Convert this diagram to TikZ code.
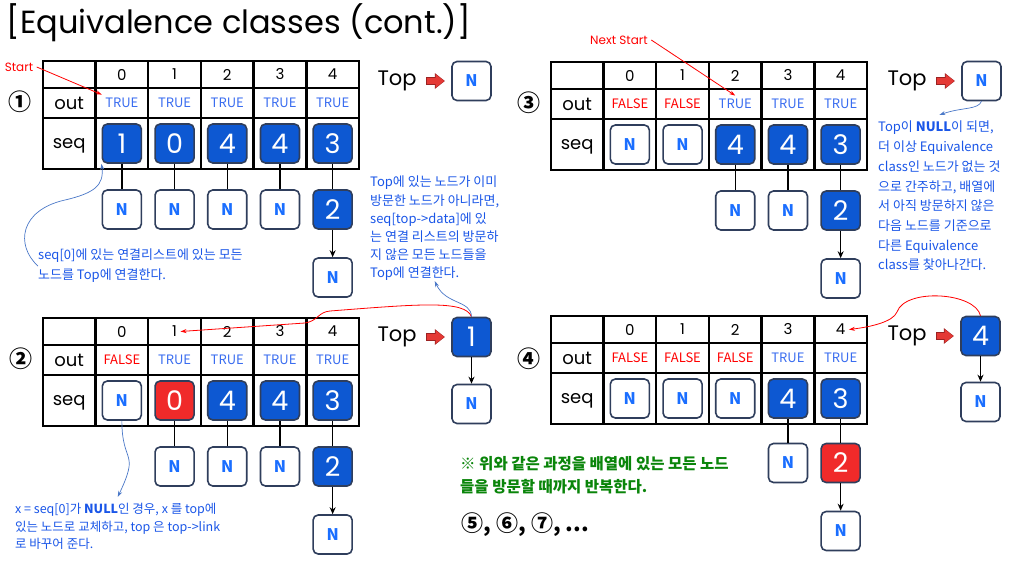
\documentclass[tikz,border=0pt]{standalone}
\usepackage{fontspec}
\setmainfont{Noto Sans CJK KR}
\newfontfamily\geo{Poppins}
\usetikzlibrary{arrows.meta}
\definecolor{boxblue}{HTML}{0D58D2}
\definecolor{edge}{HTML}{2F3E5C}
\definecolor{nblue}{HTML}{1A6EFF}
\definecolor{trueblue}{HTML}{3A6DF0}
\definecolor{hotred}{HTML}{F02A2A}
\definecolor{noteblue}{HTML}{1A56E8}
\definecolor{hintblue}{HTML}{4A78C8}
\definecolor{ptrred}{HTML}{E53935}
\definecolor{ptrdark}{HTML}{9B2222}
\definecolor{notegreen}{HTML}{0A850A}
\newcommand{\seqgrid}[1]% panel prefix
{\draw[line width=2.4pt] (43,61) rectangle (359,169);
\foreach \y in {88,118} \draw[line width=2.4pt] (43,\y) -- (359,\y);
\foreach \x in {95.5,148.2,200.9,253.6,306.3} \draw[line width=2.4pt] (\x,61) -- (\x,169);
\foreach \i in {0,...,4} \node[hdr] (#1h\i) at (121.85+52.7*\i,74.5) {\i};
\node[rowname] (#1out) at (69.2,103) {out};
\node[rowname] (#1seq) at (69.2,146) {seq};
}
\newcommand{\topptr}[2]% Top word, Top box
{\draw[ptrdark,line width=7.4pt,shorten <=8.3pt,shorten >=6.3pt,-{Triangle[length=10pt,width=15pt]}] (#1) -- (#2);
\draw[ptrred,line width=6pt,shorten <=9pt,shorten >=7pt,-{Triangle[length=8.6pt,width=13pt]}] (#1) -- (#2);
}

\begin{document}
\begin{tikzpicture}[x=1pt,y=-1pt]
\tikzstyle{box}=[draw=edge,line width=1.6pt,rounded corners=5pt,minimum size=39pt,inner sep=0pt]
\tikzstyle{blk}=[box,fill=boxblue,text=white,font=\geo\fontsize{27}{27}\selectfont]
\tikzstyle{hot}=[blk,fill=hotred]
\tikzstyle{nil}=[box,fill=white,text=nblue,font=\bfseries\fontsize{16}{16}\selectfont]
\tikzstyle{hdr}=[font=\geo\fontsize{15}{15}\selectfont]
\tikzstyle{rowname}=[font=\geo\fontsize{18}{18}\selectfont]
\tikzstyle{tru}=[text=trueblue,font=\fontsize{13}{13}\selectfont]
\tikzstyle{fal}=[text=red,font=\fontsize{13}{13}\selectfont]
\tikzstyle{link}=[-{Stealth[length=7pt,width=6pt]},line width=1.5pt]
\tikzstyle{flag}=[red,line width=0.8pt,-{Stealth[length=6pt,width=4pt]}]
\tikzstyle{hint}=[hintblue,line width=0.7pt,-{Stealth[length=6pt,width=4pt]}]
\tikzstyle{topword}=[font=\geo\fontsize{21}{21}\selectfont,inner sep=1pt]
\tikzstyle{circnum}=[font=\bfseries\fontsize{23}{23}\selectfont]
\tikzstyle{note}=[anchor=north west,align=left,inner sep=0pt,text=noteblue]
\useasboundingbox[fill=white] (0,0) rectangle (1018,562);

\node[anchor=west,font=\geo\fontsize{32}{32}\selectfont] (title) at (3,23) {[Equivalence classes (cont.)]};

% panel 1
\seqgrid{a}
\foreach \s/\v [count=\i from 0] in {tru/TRUE,tru/TRUE,tru/TRUE,tru/TRUE,tru/TRUE}
  \node[\s] (ao\i) at (121.85+52.7*\i,103) {\v};
\draw (121.85,143.5) node[blk] (as0) {1}; % seq[0]
\draw (174.55,143.5) node[blk] (as1) {0}; % seq[1]
\draw (227.25,143.5) node[blk] (as2) {4}; % seq[2]
\draw (279.95,143.5) node[blk] (as3) {4}; % seq[3]
\draw (332.65,143.5) node[blk] (as4) {3}; % seq[4]
\draw (121.85,209.5) node[nil] (an0) {N};
\draw (174.55,209.5) node[nil] (an1) {N};
\draw (227.25,209.5) node[nil] (an2) {N};
\draw (279.95,209.5) node[nil] (an3) {N};
\draw (332.65,209.5) node[blk] (an4) {2};
\draw (332.65,277.5) node[nil] (am4) {N};
\draw[link] (as0) -- (an0) (as1) -- (an1) (as2) -- (an2) (as3) -- (an3) (as4) -- (an4) (an4) -- (am4);
\node[circnum] (anum) at (20,102) {①};
\node[topword] (atop) at (397,81) {Top};
\node[nil] (atb) at (471.5,81) {N};
\topptr{atop}{atb}

% panel 3
\begin{scope}[shift={(508,1)}]
\seqgrid{c}
\foreach \s/\v [count=\i from 0] in {fal/FALSE,fal/FALSE,tru/TRUE,tru/TRUE,tru/TRUE}
  \node[\s] (co\i) at (121.85+52.7*\i,103) {\v};
\draw (121.85,143.5) node[nil] (cs0) {N};
\draw (174.55,143.5) node[nil] (cs1) {N};
\draw (227.25,143.5) node[blk] (cs2) {4};
\draw (279.95,143.5) node[blk] (cs3) {4};
\draw (332.65,143.5) node[blk] (cs4) {3};
\draw (227.25,209.5) node[nil] (cn2) {N};
\draw (279.95,209.5) node[nil] (cn3) {N};
\draw (332.65,209.5) node[blk] (cn4) {2};
\draw (332.65,277.5) node[nil] (cm4) {N};
\draw[link] (cs2) -- (cn2) (cs3) -- (cn3) (cs4) -- (cn4) (cn4) -- (cm4);
\node[circnum] (cnum) at (21,102) {③};
\node[topword] (ctop) at (399,80) {Top};
\node[nil] (ctb) at (473.5,80) {N};
\topptr{ctop}{ctb}
\end{scope}

% panel 2
\begin{scope}[shift={(0,257)}]
\seqgrid{b}
\foreach \s/\v [count=\i from 0] in {fal/FALSE,tru/TRUE,tru/TRUE,tru/TRUE,tru/TRUE}
  \node[\s] (bo\i) at (121.85+52.7*\i,103) {\v};
\draw (121.85,143.5) node[nil] (bs0) {N};
\draw (174.55,143.5) node[hot] (bs1) {0};
\draw (227.25,143.5) node[blk] (bs2) {4};
\draw (279.95,143.5) node[blk] (bs3) {4};
\draw (332.65,143.5) node[blk] (bs4) {3};
\draw (174.55,209.5) node[nil] (bn1) {N};
\draw (227.25,209.5) node[nil] (bn2) {N};
\draw (279.95,209.5) node[nil] (bn3) {N};
\draw (332.65,209.5) node[blk] (bn4) {2};
\draw (332.65,277.5) node[nil] (bm4) {N};
\draw[link] (bs1) -- (bn1) (bs2) -- (bn2) (bs3) -- (bn3) (bs4) -- (bn4) (bn4) -- (bm4);
\node[circnum] (bnum) at (21,102) {②};
\node[topword] (btop) at (397,80) {Top};
\node[blk] (btb) at (471.5,80) {1};
\node[nil] (btn) at (471.5,147) {N};
\topptr{btop}{btb}
\draw[link] (btb) -- (btn);
\end{scope}

% panel 4
\begin{scope}[shift={(508,255)}]
\seqgrid{d}
\foreach \s/\v [count=\i from 0] in {fal/FALSE,fal/FALSE,fal/FALSE,tru/TRUE,tru/TRUE}
  \node[\s] (do\i) at (121.85+52.7*\i,103) {\v};
\draw (121.85,143.5) node[nil] (ds0) {N};
\draw (174.55,143.5) node[nil] (ds1) {N};
\draw (227.25,143.5) node[nil] (ds2) {N};
\draw (279.95,143.5) node[blk] (ds3) {4};
\draw (332.65,143.5) node[blk] (ds4) {3};
\draw (279.95,208) node[nil] (dn3) {N};
\draw (332.65,208) node[hot] (dn4) {2};
\draw (332.65,276) node[nil] (dm4) {N};
\draw[link] (ds3) -- (dn3) (ds4) -- (dn4) (dn4) -- (dm4);
\node[circnum] (dnum) at (21,104) {④};
\node[topword] (dtop) at (399,81) {Top};
\node[blk] (dtb) at (472.5,81) {4};
\node[nil] (dtn) at (472.5,147) {N};
\topptr{dtop}{dtb}
\draw[link] (dtb) -- (dtn);
\end{scope}

% red pointers
\node[text=red,font=\geo\fontsize{12}{12}\selectfont] (start) at (19,67) {Start};
\draw[flag] (start.east) -- (ao0.north west);
\node[text=red,font=\geo\fontsize{12}{12}\selectfont] (nstart) at (619,40) {Next Start};
\draw[flag] (nstart.east) -- (co2.north);
\draw[flag] (btb.north) .. controls (465,300) and (420,304) .. (330,311)
  .. controls (318,312) and (318,321) .. (305,323) -- (bh1.east);
\draw[flag] (dtb.north) .. controls (975,292) and (905,288) .. (897,312)
  .. controls (893,322) and (870,327) .. (dh4.east);

% notes
\node[note,font=\fontsize{13}{20}\selectfont] (anote) at (38,249) {seq[0]에 있는 연결리스트에 있는 모든\\노드를 Top에 연결한다.};
\draw[hint] (anote.west) .. controls (15,245) and (20,210) .. (65,200)
  .. controls (95,193) and (104,185) .. (as0.south west);
\node[note,font=\fontsize{13}{18.2}\selectfont] (mnote) at (370,176) {Top에 있는 노드가 이미\\방문한 노드가 아니라면,\\seq[top->data]에 있\\는 연결 리스트의 방문하\\지 않은 모든 노드들을\\Top에 연결한다.};
\draw[hint] (btb.north) .. controls (471,300) and (446,305) .. (mnote.south);
\node[note,font=\fontsize{13}{19.7}\selectfont] (cnote) at (878,121) {Top이 \textbf{NULL}이 되면,\\더 이상 Equivalence\\class인 노드가 없는 것\\으로 간주하고, 배열에\\서 아직 방문하지 않은\\다음 노드를 기준으로\\다른 Equivalence\\class를 찾아나간다.};
\draw[hint] (ctb.south) .. controls (978,110) and (962,107) .. ([yshift=6pt]cnote.north);
\node[note,font=\fontsize{12.5}{17.5}\selectfont] (bnote) at (15,503) {x = seq[0]가 \textbf{NULL}인 경우, x 를 top에\\있는 노드로 교체하고, top 은 top->link\\로 바꾸어 준다.};
\draw[hint] (bs0.south) .. controls (122,465) and (140,450) .. ([yshift=6pt]bnote.north);
\node[note,text=notegreen,font=\bfseries\fontsize{15.5}{23}\selectfont] (gnote) at (460,456) {※ 위와 같은 과정을 배열에 있는 모든 노드\\들을 방문할 때까지 반복한다.};
\node[anchor=west,font=\bfseries\fontsize{22}{22}\selectfont] (more) at (458,525) {⑤, ⑥, ⑦, ...};
\end{tikzpicture}
\end{document}
